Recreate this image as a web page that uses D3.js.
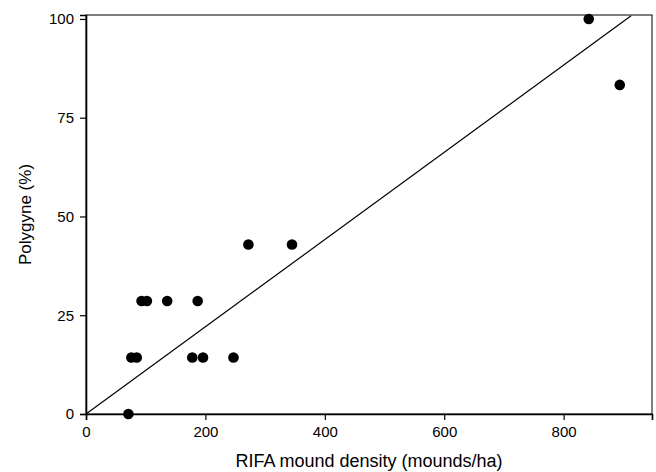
<!DOCTYPE html>
<html>
<head>
<meta charset="utf-8">
<script src="https://cdn.jsdelivr.net/npm/d3@7"></script>
<style>
  body { margin: 0; background: #fff; }
  text { font-family: "Liberation Sans", Arial, sans-serif; fill: #000; }
</style>
</head>
<body>
<div id="root"></div>
<script>
// mound density (mounds/ha) vs percent polygyne
var density = [71, 76, 85, 93, 102, 136, 187, 178, 196, 247, 272, 345, 842, 894];
var polygyne = [0, 14.3, 14.3, 28.6, 28.6, 28.6, 28.6, 14.3, 14.3, 14.3, 42.9, 42.9, 100, 83.3];

// fitted line endpoints (through origin)
var fitX = [0, 913];
var fitY = [0, 100.8];

var xTicks = [0, 200, 400, 600, 800];
var yTicks = [0, 25, 50, 75, 100];

var width = 656, height = 472;
var mLeft = 86, mRight = 652, mTop = 15, mBottom = 414;

var svg = d3.select("#root")
    .append("svg")
    .attr("width", width)
    .attr("height", height);

var x = d3.scaleLinear().domain([0, 948]).range([mLeft, mRight]);
var y = d3.scaleLinear().domain([0, 101]).range([mBottom, mTop]);

// frame
svg.append("rect")
    .attr("x", mLeft)
    .attr("y", mTop)
    .attr("width", mRight - mLeft)
    .attr("height", mBottom - mTop)
    .attr("fill", "none")
    .attr("stroke", "#000")
    .attr("stroke-width", 1);

var xAxis = svg.append("g")
    .attr("transform", "translate(0," + mBottom + ")")
    .call(d3.axisBottom(x).tickValues(xTicks).tickSize(6).tickPadding(6).tickFormat(d3.format("d")));

var yAxis = svg.append("g")
    .attr("transform", "translate(" + mLeft + ",0)")
    .call(d3.axisLeft(y).tickValues(yTicks).tickSize(6).tickPadding(6).tickFormat(d3.format("d")));

[xAxis, yAxis].forEach(function (g) {
    g.select(".domain").attr("stroke", "#000").attr("stroke-width", 1.6);
    g.selectAll(".tick line").attr("stroke", "#000").attr("stroke-width", 1.2);
    g.selectAll(".tick text")
        .attr("font-family", "'Liberation Sans', Arial, sans-serif")
        .attr("font-size", 15)
        .attr("fill", "#000");
});

// regression line
svg.append("line")
    .attr("x1", x(fitX[0]))
    .attr("y1", y(fitY[0]))
    .attr("x2", x(fitX[1]))
    .attr("y2", y(fitY[1]))
    .attr("stroke", "#000")
    .attr("stroke-width", 1.2);

// points
svg.selectAll("circle.pt")
    .data(density)
    .enter()
    .append("circle")
    .attr("class", "pt")
    .attr("cx", function (d) { return x(d); })
    .attr("cy", function (d, i) { return y(polygyne[i]); })
    .attr("r", 5.3)
    .attr("fill", "#000");

// axis titles
svg.append("text")
    .attr("x", (mLeft + mRight) / 2)
    .attr("y", 467)
    .attr("text-anchor", "middle")
    .attr("font-size", 18)
    .text("RIFA mound density (mounds/ha)");

svg.append("text")
    .attr("transform", "translate(31," + (mTop + mBottom) / 2 + ") rotate(-90)")
    .attr("text-anchor", "middle")
    .attr("font-size", 17)
    .text("Polygyne (%)");
</script>
</body>
</html>
